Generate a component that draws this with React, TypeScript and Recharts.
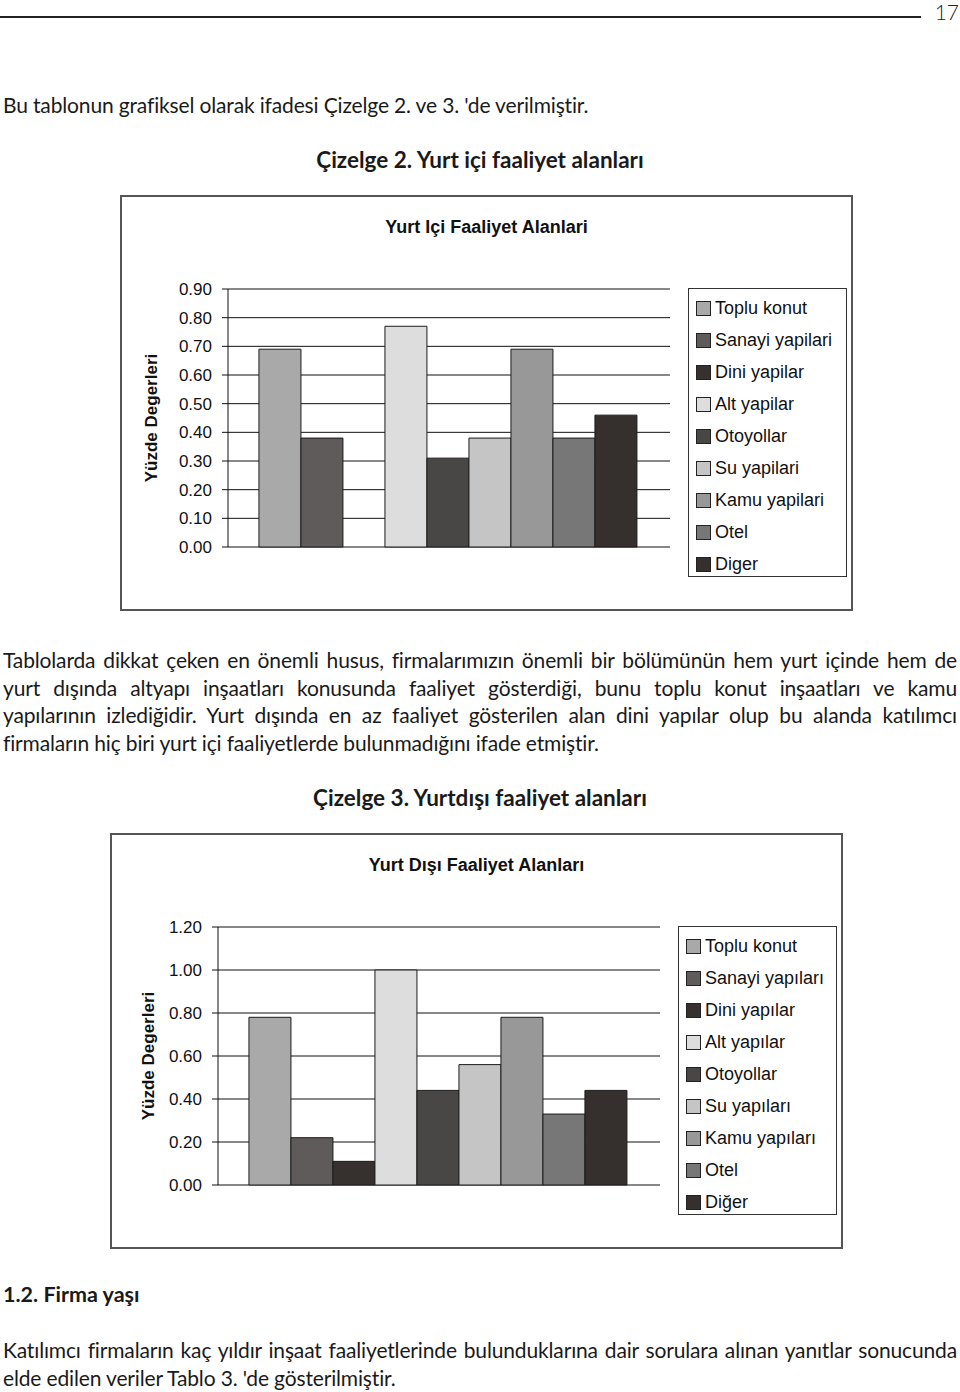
import { Bar, BarChart, CartesianGrid, Legend, XAxis, YAxis } from "recharts";

const PAGE_FONT = "Lato, 'Open Sans', sans-serif";
const CHART_FONT = "'Liberation Sans', Arial, sans-serif";

const SERIES_KEYS = ["toplu", "sanayi", "dini", "alt", "otoyol", "su", "kamu", "otel", "diger"];
const SERIES_COLORS = ["#a9a9a9", "#5f5b5b", "#36302f", "#dddddd", "#484746", "#c5c5c5", "#989898", "#777777", "#352f2d"];

const YURT_ICI_LABELS = ["Toplu konut", "Sanayi yapilari", "Dini yapilar", "Alt yapilar", "Otoyollar", "Su yapilari", "Kamu yapilari", "Otel", "Diger"];
const YURT_ICI_VALUES = [0.69, 0.38, 0, 0.77, 0.31, 0.38, 0.69, 0.38, 0.46];
const YURT_ICI_TICKS = [0, 0.1, 0.2, 0.3, 0.4, 0.5, 0.6, 0.7, 0.8, 0.9];

const YURT_DISI_LABELS = ["Toplu konut", "Sanayi yapıları", "Dini yapılar", "Alt yapılar", "Otoyollar", "Su yapıları", "Kamu yapıları", "Otel", "Diğer"];
const YURT_DISI_VALUES = [0.78, 0.22, 0.11, 1.0, 0.44, 0.56, 0.78, 0.33, 0.44];
const YURT_DISI_TICKS = [0, 0.2, 0.4, 0.6, 0.8, 1.0, 1.2];

const PARAGRAPH_1 = [
  "Tablolarda dikkat çeken en önemli husus, firmalarımızın önemli bir bölümünün hem yurt içinde hem de",
  "yurt dışında altyapı inşaatları konusunda faaliyet gösterdiği, bunu toplu konut inşaatları ve kamu",
  "yapılarının izlediğidir. Yurt dışında en az faaliyet gösterilen alan dini yapılar olup bu alanda katılımcı",
  "firmaların hiç biri yurt içi faaliyetlerde bulunmadığını ifade etmiştir.",
];
const PARAGRAPH_2 = [
  "Katılımcı firmaların kaç yıldır inşaat faaliyetlerinde bulunduklarına dair sorulara alınan yanıtlar sonucunda",
  "elde edilen veriler Tablo 3. 'de gösterilmiştir.",
];

function LegendBox({ payload }: any) {
  return (
    <div
      style={{
        width: 159,
        height: 289,
        boxSizing: "border-box",
        border: "1.5px solid #333",
        background: "#fff",
        padding: "3px 0 0 7px",
        fontFamily: CHART_FONT,
      }}
    >
      {(payload || []).map((entry: any) => (
        <div
          key={entry.value}
          style={{ display: "flex", alignItems: "center", height: 32, fontSize: 18, color: "#111" }}
        >
          <span
            style={{
              width: 13,
              height: 13,
              background: entry.color,
              border: "1px solid #222",
              marginRight: 4,
              flexShrink: 0,
            }}
          />
          {entry.value}
        </div>
      ))}
    </div>
  );
}

interface ActivityChartProps {
  title: string;
  labels: string[];
  values: number[];
  ticks: number[];
  labelOffset: number;
  left: number;
  top: number;
}

function ActivityChart({ title, labels, values, ticks, labelOffset, left, top }: ActivityChartProps) {
  const row: Record<string, number | string> = { name: "all" };
  SERIES_KEYS.forEach((key, i) => {
    row[key] = values[i];
  });
  const data = [row];
  const max = ticks[ticks.length - 1];

  return (
    <div
      style={{
        position: "absolute",
        left,
        top,
        width: 733,
        height: 416,
        boxSizing: "border-box",
        border: "2px solid #555",
        background: "#fff",
      }}
    >
      <div
        style={{
          position: "absolute",
          left: 0,
          top: 19,
          width: 729,
          textAlign: "center",
          fontFamily: CHART_FONT,
          fontWeight: 700,
          fontSize: 18,
          lineHeight: "22px",
          color: "#111",
        }}
      >
        {title}
      </div>
      <BarChart
        width={729}
        height={412}
        data={data}
        margin={{ top: 92, right: 181, bottom: 62, left: 26 }}
        barCategoryGap="7%"
        barGap={0}
      >
        <CartesianGrid xAxisId="frame" vertical={false} stroke="#111" />
        <XAxis xAxisId="cat" dataKey="name" hide />
        <XAxis
          xAxisId="frame"
          type="number"
          domain={[0, 1]}
          ticks={[0, 1]}
          tick={false}
          tickSize={6}
          height={0}
          axisLine={{ stroke: "#111" }}
          tickLine={{ stroke: "#111" }}
        />
        <YAxis
          width={80}
          domain={[0, max]}
          ticks={ticks}
          interval={0}
          tickFormatter={(v: number) => v.toFixed(2)}
          tick={{ fontSize: 17, fill: "#111", fontFamily: CHART_FONT }}
          tickSize={6}
          tickMargin={10}
          axisLine={{ stroke: "#111" }}
          tickLine={{ stroke: "#111" }}
          label={{
            value: "Yüzde Degerleri",
            angle: -90,
            position: "insideLeft",
            offset: labelOffset,
            style: { textAnchor: "middle", fontWeight: 700, fontSize: 17, fill: "#111", fontFamily: CHART_FONT },
          }}
        />
        <Legend
          layout="horizontal"
          align="center"
          verticalAlign="middle"
          itemSorter={(item: any) => SERIES_KEYS.indexOf(item.dataKey)}
          content={<LegendBox />}
          wrapperStyle={{ left: 566, top: 91, width: 159, height: 289 }}
        />
        {SERIES_KEYS.map((key, i) => (
          <Bar
            key={key}
            xAxisId="cat"
            dataKey={key}
            name={labels[i]}
            fill={SERIES_COLORS[i]}
            stroke="#1c1c1c"
            strokeWidth={1}
            isAnimationActive={false}
          />
        ))}
      </BarChart>
    </div>
  );
}

const textLine = (top: number, extra: React.CSSProperties = {}): React.CSSProperties => ({
  position: "absolute",
  left: 3,
  top,
  fontFamily: PAGE_FONT,
  fontSize: 21,
  lineHeight: "28px",
  color: "#1a1a1a",
  whiteSpace: "nowrap",
  letterSpacing: -0.15,
  ...extra,
});

export default function App() {
  return (
    <div
      style={{
        position: "absolute",
        left: 0,
        top: 0,
        width: 960,
        height: 1392,
        background: "#fff",
      }}
    >
      <div style={{ position: "absolute", left: 0, top: 16, width: 921, height: 2, background: "#222" }} />
      <div
        style={{
          position: "absolute",
          left: 933,
          top: 2,
          width: 26,
          textAlign: "right",
          fontFamily: PAGE_FONT,
          fontWeight: 300,
          fontSize: 21,
          lineHeight: "20px",
          color: "#222",
        }}
      >
        17
      </div>

      <div style={textLine(91)}>Bu tablonun grafiksel olarak ifadesi Çizelge 2. ve 3. 'de verilmiştir.</div>
      <div
        style={textLine(146, { left: 0, width: 960, textAlign: "center", fontWeight: 700, fontSize: 22.5, letterSpacing: 0 })}
      >
        Çizelge 2. Yurt içi faaliyet alanları
      </div>

      <ActivityChart
        title="Yurt Içi Faaliyet Alanlari"
        labels={YURT_ICI_LABELS}
        values={YURT_ICI_VALUES}
        ticks={YURT_ICI_TICKS}
        labelOffset={3}
        left={120}
        top={195}
      />

      {PARAGRAPH_1.map((line, i) => {
        const last = i === PARAGRAPH_1.length - 1;
        return (
          <div
            key={line}
            style={textLine(646 + i * 27.7, {
              width: 954,
              whiteSpace: "normal",
              textAlign: "justify",
              textAlignLast: last ? "left" : "justify",
            })}
          >
            {line}
          </div>
        );
      })}

      <div
        style={textLine(784, { left: 0, width: 960, textAlign: "center", fontWeight: 700, fontSize: 22.5, letterSpacing: 0 })}
      >
        Çizelge 3. Yurtdışı faaliyet alanları
      </div>

      <ActivityChart
        title="Yurt Dışı Faaliyet Alanları"
        labels={YURT_DISI_LABELS}
        values={YURT_DISI_VALUES}
        ticks={YURT_DISI_TICKS}
        labelOffset={10}
        left={110}
        top={833}
      />

      <div style={textLine(1280, { fontWeight: 700, fontSize: 21.5, letterSpacing: 0 })}>1.2. Firma yaşı</div>

      {PARAGRAPH_2.map((line, i) => {
        const last = i === PARAGRAPH_2.length - 1;
        return (
          <div
            key={line}
            style={textLine(1336 + i * 28, {
              width: 954,
              whiteSpace: "normal",
              textAlign: "justify",
              textAlignLast: last ? "left" : "justify",
            })}
          >
            {line}
          </div>
        );
      })}
    </div>
  );
}
